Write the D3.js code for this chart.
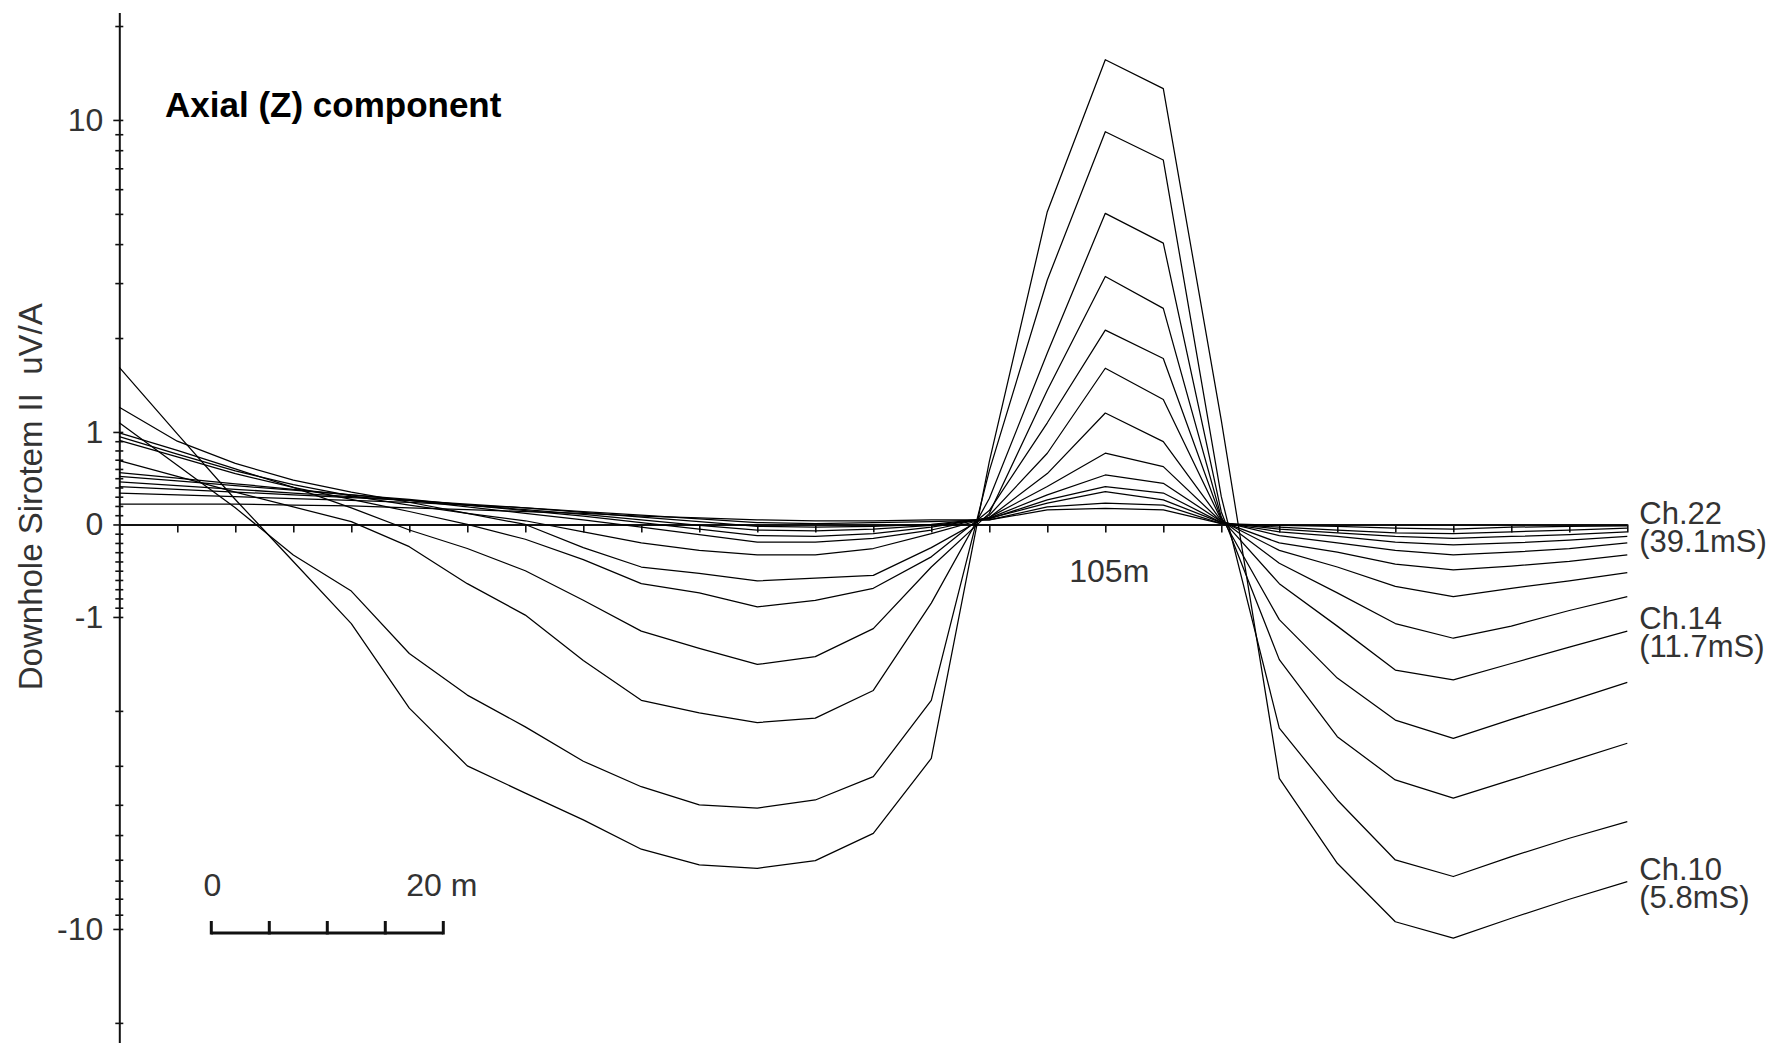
<!DOCTYPE html>
<html>
<head>
<meta charset="utf-8">
<script src="https://cdnjs.cloudflare.com/ajax/libs/d3/7.8.5/d3.min.js"></script>
<style>
  html, body { margin: 0; padding: 0; background: #fff; }
  svg { display: block; }
  text { font-family: "Liberation Sans", Arial, sans-serif; }
</style>
</head>
<body>
<svg id="chart" width="1776" height="1043"></svg>
<script>
"use strict";

// station depths down the hole (m)
var depths = [20, 25, 30, 35, 40, 45, 50, 55, 60, 65, 70, 75, 80, 85,
              90, 95, 100, 105, 110, 115, 120, 125, 130, 135, 140, 145, 150];

var channels = ["Ch.10", "Ch.11", "Ch.12", "Ch.13", "Ch.14", "Ch.15", "Ch.16",
                "Ch.17", "Ch.18", "Ch.19", "Ch.20", "Ch.21", "Ch.22"];

// Downhole Sirotem II response, uV/A, one value per station
var ch10 = [1.61, 0.98, 0.27, -0.40, -1.05, -1.96, -3.0, -3.67, -4.47, -5.55, -6.23, -6.39, -6.04, -4.94,
            -2.84, 0.68, 5.08, 15.6, 12.6, 1.09, -3.29, -6.16, -9.48, -10.7, -9.24, -8.03, -7.05];
var ch11 = [1.07, 0.64, 0.18, -0.33, -0.72, -1.31, -1.78, -2.25, -2.9, -3.5, -4.0, -4.1, -3.86, -3.25,
            -1.85, 0.58, 3.07, 9.17, 7.44, 0.3, -2.27, -3.86, -6.01, -6.79, -5.86, -5.12, -4.53];
var ch12 = [0.69, 0.52, 0.35, 0.19, 0.03, -0.24, -0.64, -0.98, -1.38, -1.85, -2.03, -2.18, -2.11, -1.72,
            -0.85, 0.28, 1.79, 5.02, 4.03, 0.135, -1.37, -2.42, -3.33, -3.81, -3.33, -2.91, -2.54];
var ch13 = [0.99, 0.80, 0.60, 0.40, 0.18, -0.06, -0.26, -0.5, -0.82, -1.11, -1.26, -1.42, -1.34, -1.09,
            -0.46, 0.12, 1.36, 3.15, 2.49, 0.08, -1.02, -1.57, -2.14, -2.45, -2.13, -1.86, -1.62];
var ch14 = [0.91, 0.73, 0.55, 0.40, 0.27, 0.14, 0.0, -0.16, -0.38, -0.64, -0.74, -0.89, -0.82, -0.69,
            -0.35, 0.15, 1.07, 2.12, 1.72, 0.06, -0.64, -1.07, -1.48, -1.59, -1.41, -1.25, -1.11];
var ch15 = [1.2, 0.9, 0.66, 0.48, 0.35, 0.24, 0.12, 0.0, -0.25, -0.46, -0.53, -0.61, -0.58, -0.55,
            -0.25, 0.10, 0.77, 1.60, 1.27, 0.05, -0.42, -0.74, -1.05, -1.17, -1.07, -0.93, -0.78];
var ch16 = [0.95, 0.76, 0.58, 0.43, 0.31, 0.21, 0.12, 0.04, -0.08, -0.2, -0.28, -0.33, -0.33, -0.26,
            -0.1, 0.075, 0.55, 1.15, 0.895, 0.04, -0.28, -0.46, -0.67, -0.78, -0.69, -0.61, -0.52];
var ch17 = [0.56, 0.50, 0.44, 0.38, 0.32, 0.26, 0.19, 0.12, 0.05, -0.03, -0.11, -0.19, -0.19, -0.15,
            -0.06, 0.077, 0.41, 0.77, 0.625, 0.03, -0.2, -0.3, -0.43, -0.49, -0.45, -0.40, -0.33];
var ch18 = [0.52, 0.47, 0.42, 0.37, 0.32, 0.27, 0.21, 0.15, 0.09, 0.02, -0.05, -0.12, -0.13, -0.1,
            -0.03, 0.068, 0.32, 0.535, 0.445, 0.03, -0.12, -0.2, -0.28, -0.33, -0.3, -0.26, -0.2];
var ch19 = [0.46, 0.42, 0.38, 0.34, 0.30, 0.26, 0.21, 0.16, 0.11, 0.05, -0.01, -0.06, -0.07, -0.05,
            -0.01, 0.06, 0.265, 0.41, 0.34, 0.02, -0.08, -0.13, -0.19, -0.22, -0.2, -0.17, -0.13];
var ch20 = [0.41, 0.38, 0.35, 0.32, 0.29, 0.26, 0.22, 0.18, 0.13, 0.08, 0.03, -0.02, -0.03, -0.02,
            0.0, 0.067, 0.23, 0.355, 0.265, 0.02, -0.05, -0.09, -0.13, -0.15, -0.13, -0.11, -0.08];
var ch21 = [0.34, 0.32, 0.30, 0.28, 0.26, 0.24, 0.21, 0.18, 0.14, 0.1, 0.06, 0.02, 0.01, 0.02,
            0.03, 0.05, 0.19, 0.23, 0.21, 0.01, -0.03, -0.06, -0.09, -0.1, -0.08, -0.06, -0.04];
var ch22 = [0.22, 0.22, 0.22, 0.21, 0.2, 0.18, 0.16, 0.14, 0.12, 0.09, 0.07, 0.05, 0.04, 0.04,
            0.05, 0.05, 0.157, 0.175, 0.157, 0.01, -0.01, -0.02, -0.04, -0.05, -0.03, -0.02, -0.015];

var series = [ch10, ch11, ch12, ch13, ch14, ch15, ch16, ch17, ch18, ch19, ch20, ch21, ch22];

// y axis ticks
var majorTicks = [10, 1, 0, -1, -10];
var minorTicks = [20, 9, 8, 7, 6, 5, 4, 3, 2,
                  0.9, 0.8, 0.7, 0.6, 0.5, 0.4, 0.3, 0.2, 0.1,
                  -0.1, -0.2, -0.3, -0.4, -0.5, -0.6, -0.7, -0.8, -0.9,
                  -2, -3, -4, -5, -6, -7, -8, -9, -20];

// end labels
var labelChannels = ["Ch.22", "Ch.14", "Ch.10"];
var labelTimes = ["(39.1mS)", "(11.7mS)", "(5.8mS)"];
var depthMark = 105;
var scaleBarMetres = [0, 5, 10, 15, 20];

var svg = d3.select("#chart");

// linear inside +-1, log10 outside
var logGain = 312 / 92.5;
function warp(v) {
	var a = Math.abs(v);
	return a <= 1 ? v : Math.sign(v) * (1 + Math.log10(a) * logGain);
}
function warpScale(lin) {
	function s(v) { return lin(warp(v)); }
	s.domain = function() { return lin.domain(); };
	s.range = function() { return lin.range(); };
	s.copy = function() { return warpScale(lin.copy()); };
	return s;
}

var x = d3.scaleLinear().domain([20, 150]).range([119.3, 1627.3]);
var y = warpScale(d3.scaleLinear().domain([warp(-23.2), warp(22.1)]).range([1043, 12.5]));

// y axis, ticks crossing the line
var gy = svg.append("g").attr("transform", "translate(" + x(20) + ",0)");
gy.append("g")
	.call(d3.axisLeft(y).tickValues(minorTicks).tickFormat("").tickSizeOuter(0))
	.call(function(g) {
		g.select(".domain").attr("stroke", "#111").attr("stroke-width", 2);
		g.selectAll(".tick line").attr("x1", 4).attr("x2", -4).attr("stroke", "#111").attr("stroke-width", 1.6);
	});
gy.append("g")
	.call(d3.axisLeft(y).tickValues(majorTicks).tickFormat(function(d) { return String(d); }).tickSizeOuter(0))
	.call(function(g) {
		g.select(".domain").remove();
		g.selectAll(".tick line").attr("x1", 4).attr("x2", -6).attr("stroke", "#111").attr("stroke-width", 1.6);
		g.selectAll(".tick text")
			.attr("x", -16)
			.attr("fill", "#333")
			.style("font-size", "32px")
			.style("font-family", "'Liberation Sans', Arial, sans-serif");
	});

svg.append("text")
	.attr("transform", "translate(42," + y(0.3) + ") rotate(-90)")
	.attr("text-anchor", "middle")
	.attr("fill", "#333")
	.style("font-size", "33px")
	.style("white-space", "pre")
	.text("Downhole Sirotem II  uV/A");

// x axis along zero
svg.append("g")
	.attr("transform", "translate(0," + y(0) + ")")
	.call(d3.axisBottom(x).tickValues(depths.slice(1)).tickFormat("").tickSizeInner(8).tickSizeOuter(0))
	.call(function(g) {
		g.select(".domain").attr("stroke", "#111").attr("stroke-width", 2);
		g.selectAll(".tick line").attr("stroke", "#111").attr("stroke-width", 1.6);
	});

svg.append("text")
	.attr("x", x(depthMark) + 4)
	.attr("y", y(0) + 58)
	.attr("text-anchor", "middle")
	.attr("fill", "#333")
	.style("font-size", "32px")
	.text(depthMark + "m");

// channel profiles
var line = d3.line()
	.x(function(d, i) { return x(depths[i]); })
	.y(function(d) { return y(d); });

svg.append("g")
	.selectAll("path")
	.data(series)
	.join("path")
		.attr("class", "profile")
		.attr("fill", "none")
		.attr("stroke", "#000")
		.attr("stroke-width", 1.25)
		.attr("stroke-linejoin", "round")
		.attr("d", line);

// right hand labels, two lines each
var last = depths.length - 1;
var gl = svg.append("g")
	.attr("fill", "#333")
	.style("font-size", "31px");
labelChannels.forEach(function(name, k) {
	var yEnd = y(series[channels.indexOf(name)][last]);
	gl.append("text").attr("x", x(depths[last]) + 12).attr("y", yEnd - 2).text(name);
	gl.append("text").attr("x", x(depths[last]) + 12).attr("y", yEnd + 26).text(labelTimes[k]);
});

// title
svg.append("text")
	.attr("x", 165)
	.attr("y", 117)
	.attr("fill", "#000")
	.style("font-size", "35px")
	.style("font-weight", "bold")
	.text("Axial (Z) component");

// 20 m scale bar
var barX = 211.3, barY = 933,
	mpx = x(21) - x(20);
var bar = svg.append("g").attr("stroke", "#111").attr("stroke-width", 3);
bar.append("line")
	.attr("x1", barX).attr("x2", barX + mpx * scaleBarMetres[scaleBarMetres.length - 1])
	.attr("y1", barY).attr("y2", barY);
bar.selectAll(".sb-tick")
	.data(scaleBarMetres)
	.join("line")
		.attr("class", "sb-tick")
		.attr("x1", function(d) { return barX + mpx * d; })
		.attr("x2", function(d) { return barX + mpx * d; })
		.attr("y1", barY + 1.5).attr("y2", barY - 12);

svg.append("text")
	.attr("x", barX + 1)
	.attr("y", 896)
	.attr("text-anchor", "middle")
	.attr("fill", "#333")
	.style("font-size", "32px")
	.text(scaleBarMetres[0]);
svg.append("text")
	.attr("x", barX + mpx * 20 - 37)
	.attr("y", 896)
	.attr("fill", "#333")
	.style("font-size", "32px")
	.text("20 m");
</script>
</body>
</html>
